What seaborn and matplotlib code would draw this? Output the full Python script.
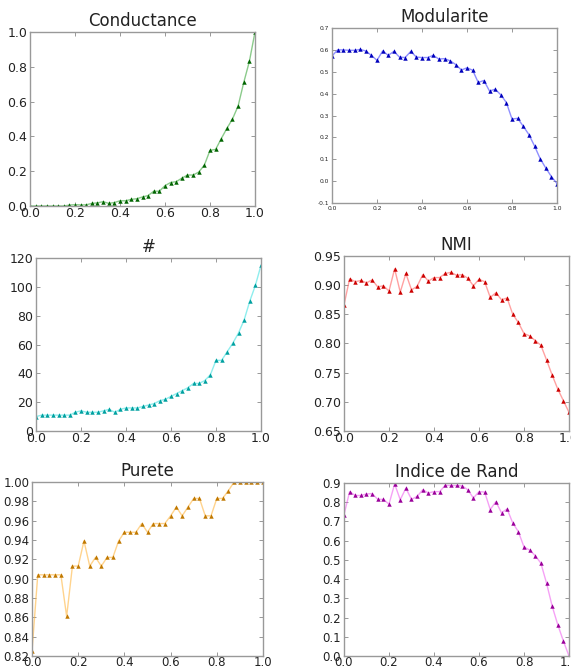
import matplotlib
matplotlib.use('Agg')
import matplotlib.pyplot as plt
import seaborn as sns

sns.set_style('ticks')
plt.rcParams['font.family'] = ['DejaVu Sans']

# seuils (abscisse commune aux 6 courbes)
seuils = [0.0, 0.025, 0.05, 0.075, 0.1, 0.125, 0.15, 0.175, 0.2, 0.225,
          0.25, 0.275, 0.3, 0.325, 0.35, 0.375, 0.4, 0.425, 0.45, 0.475,
          0.5, 0.525, 0.55, 0.575, 0.6, 0.625, 0.65, 0.675, 0.7, 0.725,
          0.75, 0.775, 0.8, 0.825, 0.85, 0.875, 0.9, 0.925, 0.95, 0.975, 1.0]

conductance = [0.0, 0.0, 0.0, 0.0, 0.0, 0.0, 0.0, 0.005, 0.008, 0.006,
               0.007, 0.015, 0.018, 0.025, 0.015, 0.02, 0.03, 0.03, 0.038, 0.042,
               0.052, 0.06, 0.085, 0.085, 0.117, 0.135, 0.14, 0.16, 0.178, 0.178,
               0.195, 0.235, 0.32, 0.325, 0.387, 0.446, 0.5, 0.575, 0.71, 0.831, 1.0]

modularite = [0.572, 0.60, 0.60, 0.598, 0.598, 0.602, 0.595, 0.575, 0.552, 0.595,
              0.575, 0.593, 0.567, 0.565, 0.593, 0.567, 0.565, 0.565, 0.575, 0.558,
              0.56, 0.55, 0.533, 0.508, 0.518, 0.507, 0.451, 0.46, 0.412, 0.42,
              0.395, 0.359, 0.284, 0.287, 0.251, 0.213, 0.161, 0.103, 0.06, 0.021, -0.011]

nb_communautes = [10, 11, 11, 11, 11, 11, 11, 13, 14, 13,
                  13, 13, 14, 15, 13, 15, 16, 16, 16, 17,
                  18, 19, 21, 22, 24, 26, 28, 30, 33, 33,
                  35, 39, 49, 49, 55, 61, 68, 77, 90, 101, 115]

nmi = [0.866, 0.911, 0.906, 0.908, 0.904, 0.909, 0.897, 0.899, 0.89, 0.928,
       0.888, 0.92, 0.892, 0.898, 0.918, 0.907, 0.913, 0.913, 0.92, 0.922,
       0.917, 0.918, 0.912, 0.899, 0.91, 0.906, 0.879, 0.887, 0.875, 0.878,
       0.85, 0.836, 0.817, 0.813, 0.805, 0.797, 0.772, 0.746, 0.722, 0.702, 0.682]

purete = [0.825, 0.904, 0.904, 0.904, 0.904, 0.904, 0.861, 0.913, 0.913, 0.939,
          0.913, 0.922, 0.913, 0.922, 0.922, 0.939, 0.948, 0.948, 0.948, 0.957,
          0.948, 0.957, 0.957, 0.957, 0.965, 0.974, 0.965, 0.974, 0.983, 0.983,
          0.965, 0.965, 0.983, 0.983, 0.991, 1.0, 1.0, 1.0, 1.0, 1.0, 1.0]

rand = [0.735, 0.855, 0.835, 0.835, 0.843, 0.845, 0.815, 0.815, 0.79, 0.895,
        0.813, 0.873, 0.815, 0.83, 0.865, 0.848, 0.855, 0.855, 0.888, 0.887,
        0.887, 0.885, 0.865, 0.822, 0.855, 0.853, 0.762, 0.803, 0.745, 0.765,
        0.692, 0.647, 0.567, 0.551, 0.522, 0.483, 0.38, 0.26, 0.163, 0.078, 0.0]

W, H = 571, 669
fig = plt.figure(figsize=(W / 100, H / 100), dpi=100)


def panneau(px, titre, y, couleur, fonce, ylim, yticks, fmt, fs=9, ts=12, xpad=2):
    l, t, r, b = px
    ax = fig.add_axes([l / W, 1 - b / H, (r - l) / W, (b - t) / H])
    sns.lineplot(x=seuils, y=y, ax=ax, color=couleur, alpha=0.55, lw=1)
    sns.lineplot(x=seuils, y=y, ax=ax, color=fonce, lw=0, marker='^',
                 markersize=3.2, markeredgewidth=0)
    ax.set_xlim(0, 1)
    ax.set_ylim(*ylim)
    ax.set_xticks([0, 0.2, 0.4, 0.6, 0.8, 1.0])
    ax.set_xticklabels(['0.0', '0.2', '0.4', '0.6', '0.8', '1.0'])
    ax.set_yticks(yticks)
    ax.set_yticklabels([fmt.format(v) for v in yticks])
    ax.tick_params(direction='in', length=3, width=0.6, color='#888888',
                   labelsize=fs, labelcolor='#222222', top=True, right=True, pad=2)
    ax.tick_params(axis='x', pad=xpad)
    for s in ax.spines.values():
        s.set_color('#999999')
        s.set_linewidth(1)
    ax.set_title(titre, fontsize=ts, color='#222222', pad=4)
    return ax


panneau((30, 32, 255, 206), 'Conductance', conductance, '#2ca02c', '#006400',
        (0, 1), [0, 0.2, 0.4, 0.6, 0.8, 1.0], '{:.1f}', xpad=1)
panneau((332, 28, 557, 203), 'Modularite', modularite, '#3333ff', '#0000bb',
        (-0.1, 0.7), [-0.1, 0, 0.1, 0.2, 0.3, 0.4, 0.5, 0.6, 0.7], '{:.1f}', fs=4.3)
panneau((36, 258, 261, 431), '#', nb_communautes, '#33e0e0', '#00a0a0',
        (0, 120), [0, 20, 40, 60, 80, 100, 120], '{:.0f}', xpad=1)
panneau((344, 256, 569, 431), 'NMI', nmi, '#ff5555', '#cc0000',
        (0.65, 0.95), [0.65, 0.7, 0.75, 0.8, 0.85, 0.9, 0.95], '{:.2f}', xpad=1)
panneau((32, 482, 263, 656), 'Purete', purete, '#ffb030', '#c07800',
        (0.82, 1.0), [0.82, 0.84, 0.86, 0.88, 0.9, 0.92, 0.94, 0.96, 0.98, 1.0], '{:.2f}',
        fs=8.5, xpad=0)
panneau((344, 483, 569, 656), 'Indice de Rand', rand, '#ee55ee', '#990099',
        (0, 0.9), [0, 0.1, 0.2, 0.3, 0.4, 0.5, 0.6, 0.7, 0.8, 0.9], '{:.1f}',
        fs=8.5, xpad=0)

fig.savefig('out.png', dpi=100)
